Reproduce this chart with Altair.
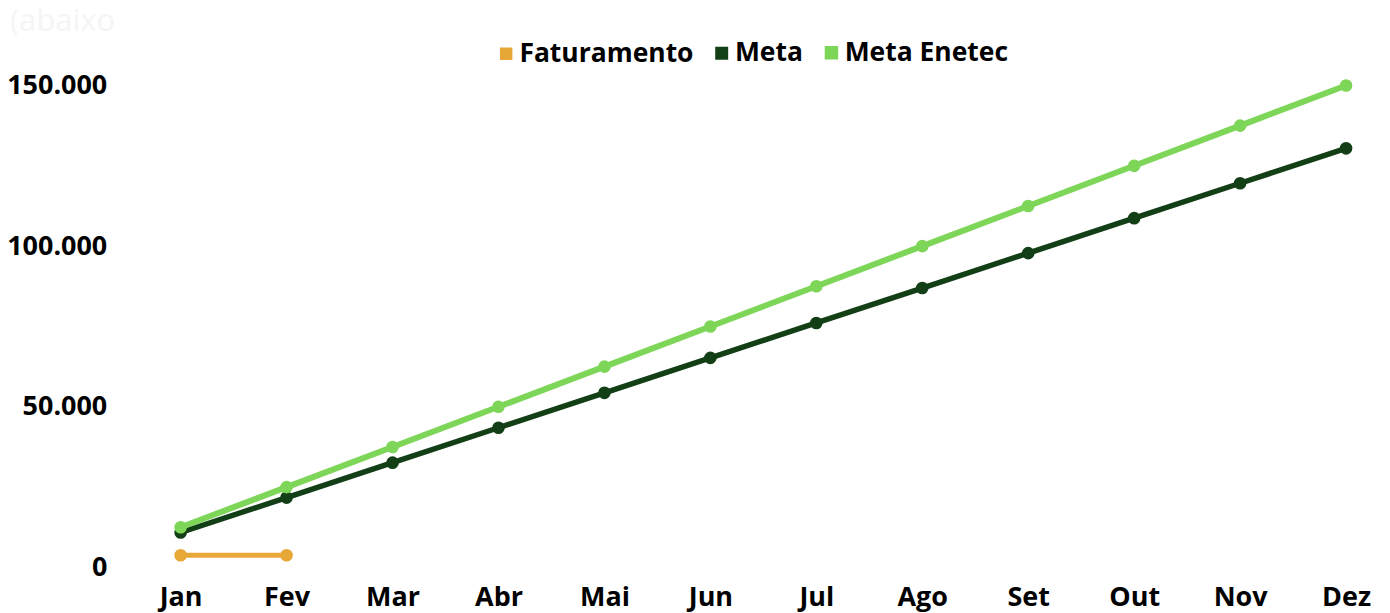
import altair as alt
import pandas as pd

months = ["Jan", "Fev", "Mar", "Abr", "Mai", "Jun", "Jul", "Ago", "Set", "Out", "Nov", "Dez"]
faturamento = [3800, 3800, None, None, None, None, None, None, None, None, None, None]
meta = [10870, 21740, 32610, 43480, 54350, 65220, 76090, 86960, 97830, 108700, 119570, 130440]
meta_enetec = [12500, 25000, 37500, 50000, 62500, 75000, 87500, 100000, 112500, 125000, 137500, 150000]

series = ["Faturamento", "Meta", "Meta Enetec"]
colors = ["#E8A838", "#133F17", "#7DD658"]

rows = []
for name, vals in zip(series, [faturamento, meta, meta_enetec]):
    for m, v in zip(months, vals):
        if v is not None:
            rows.append({"Mês": m, "Série": name, "Valor": v})
df = pd.DataFrame(rows)

FONT = "Open Sans"
FS = 27

x = alt.X("Mês:N", sort=months, title=None,
          scale=alt.Scale(type="point", padding=0.245),
          axis=alt.Axis(labelAngle=0, labelFontSize=FS, labelFontWeight="bold",
                        labelColor="#000000", labelPadding=17, ticks=False,
                        domain=False, grid=False, labelFont=FONT))
y = alt.Y("Valor:Q", title=None,
          scale=alt.Scale(domain=[0, 150000], nice=False),
          axis=alt.Axis(values=[0, 50000, 100000, 150000],
                        labelExpr="replace(format(datum.value, ','), ',', '.')",
                        labelFontSize=FS, labelFontWeight="bold", labelColor="#000000",
                        labelPadding=48, ticks=False, domain=False, grid=False,
                        labelFont=FONT))
color = alt.Color("Série:N", scale=alt.Scale(domain=series, range=colors), title=None,
                  legend=alt.Legend(orient="none", legendX=339, legendY=-46,
                                    direction="horizontal", symbolType="square",
                                    symbolSize=56, symbolStrokeWidth=0,
                                    labelFontSize=26.5, labelFontWeight="bold",
                                    labelColor="#000000", labelFont=FONT, labelLimit=0,
                                    columnPadding=12, labelOffset=0))

lines = alt.Chart(df).mark_line(strokeCap="round", strokeJoin="round").encode(
    x=x, y=y, color=color,
    strokeWidth=alt.StrokeWidth("Série:N", scale=alt.Scale(domain=series, range=[5, 6, 6]), legend=None),
)
points = alt.Chart(df).mark_circle(size=160, opacity=1).encode(
    x=x, y=y, color=color,
)

chart = alt.layer(lines, points).properties(
    width=1220, height=483,
    background="#FFFFFF",
    title=alt.TitleParams("(abaixo", anchor="start", frame="group", dx=-145, dy=2,
                          fontSize=31, fontWeight="normal", color="#F5F5F5", font=FONT),
    autosize=alt.AutoSizeParams(type="none"),
    padding={"left": 147, "top": 77, "right": 10, "bottom": 44},
).configure_view(strokeWidth=0, stroke="transparent")

chart.save("out.html", embed_options={"renderer": "svg", "actions": False})
